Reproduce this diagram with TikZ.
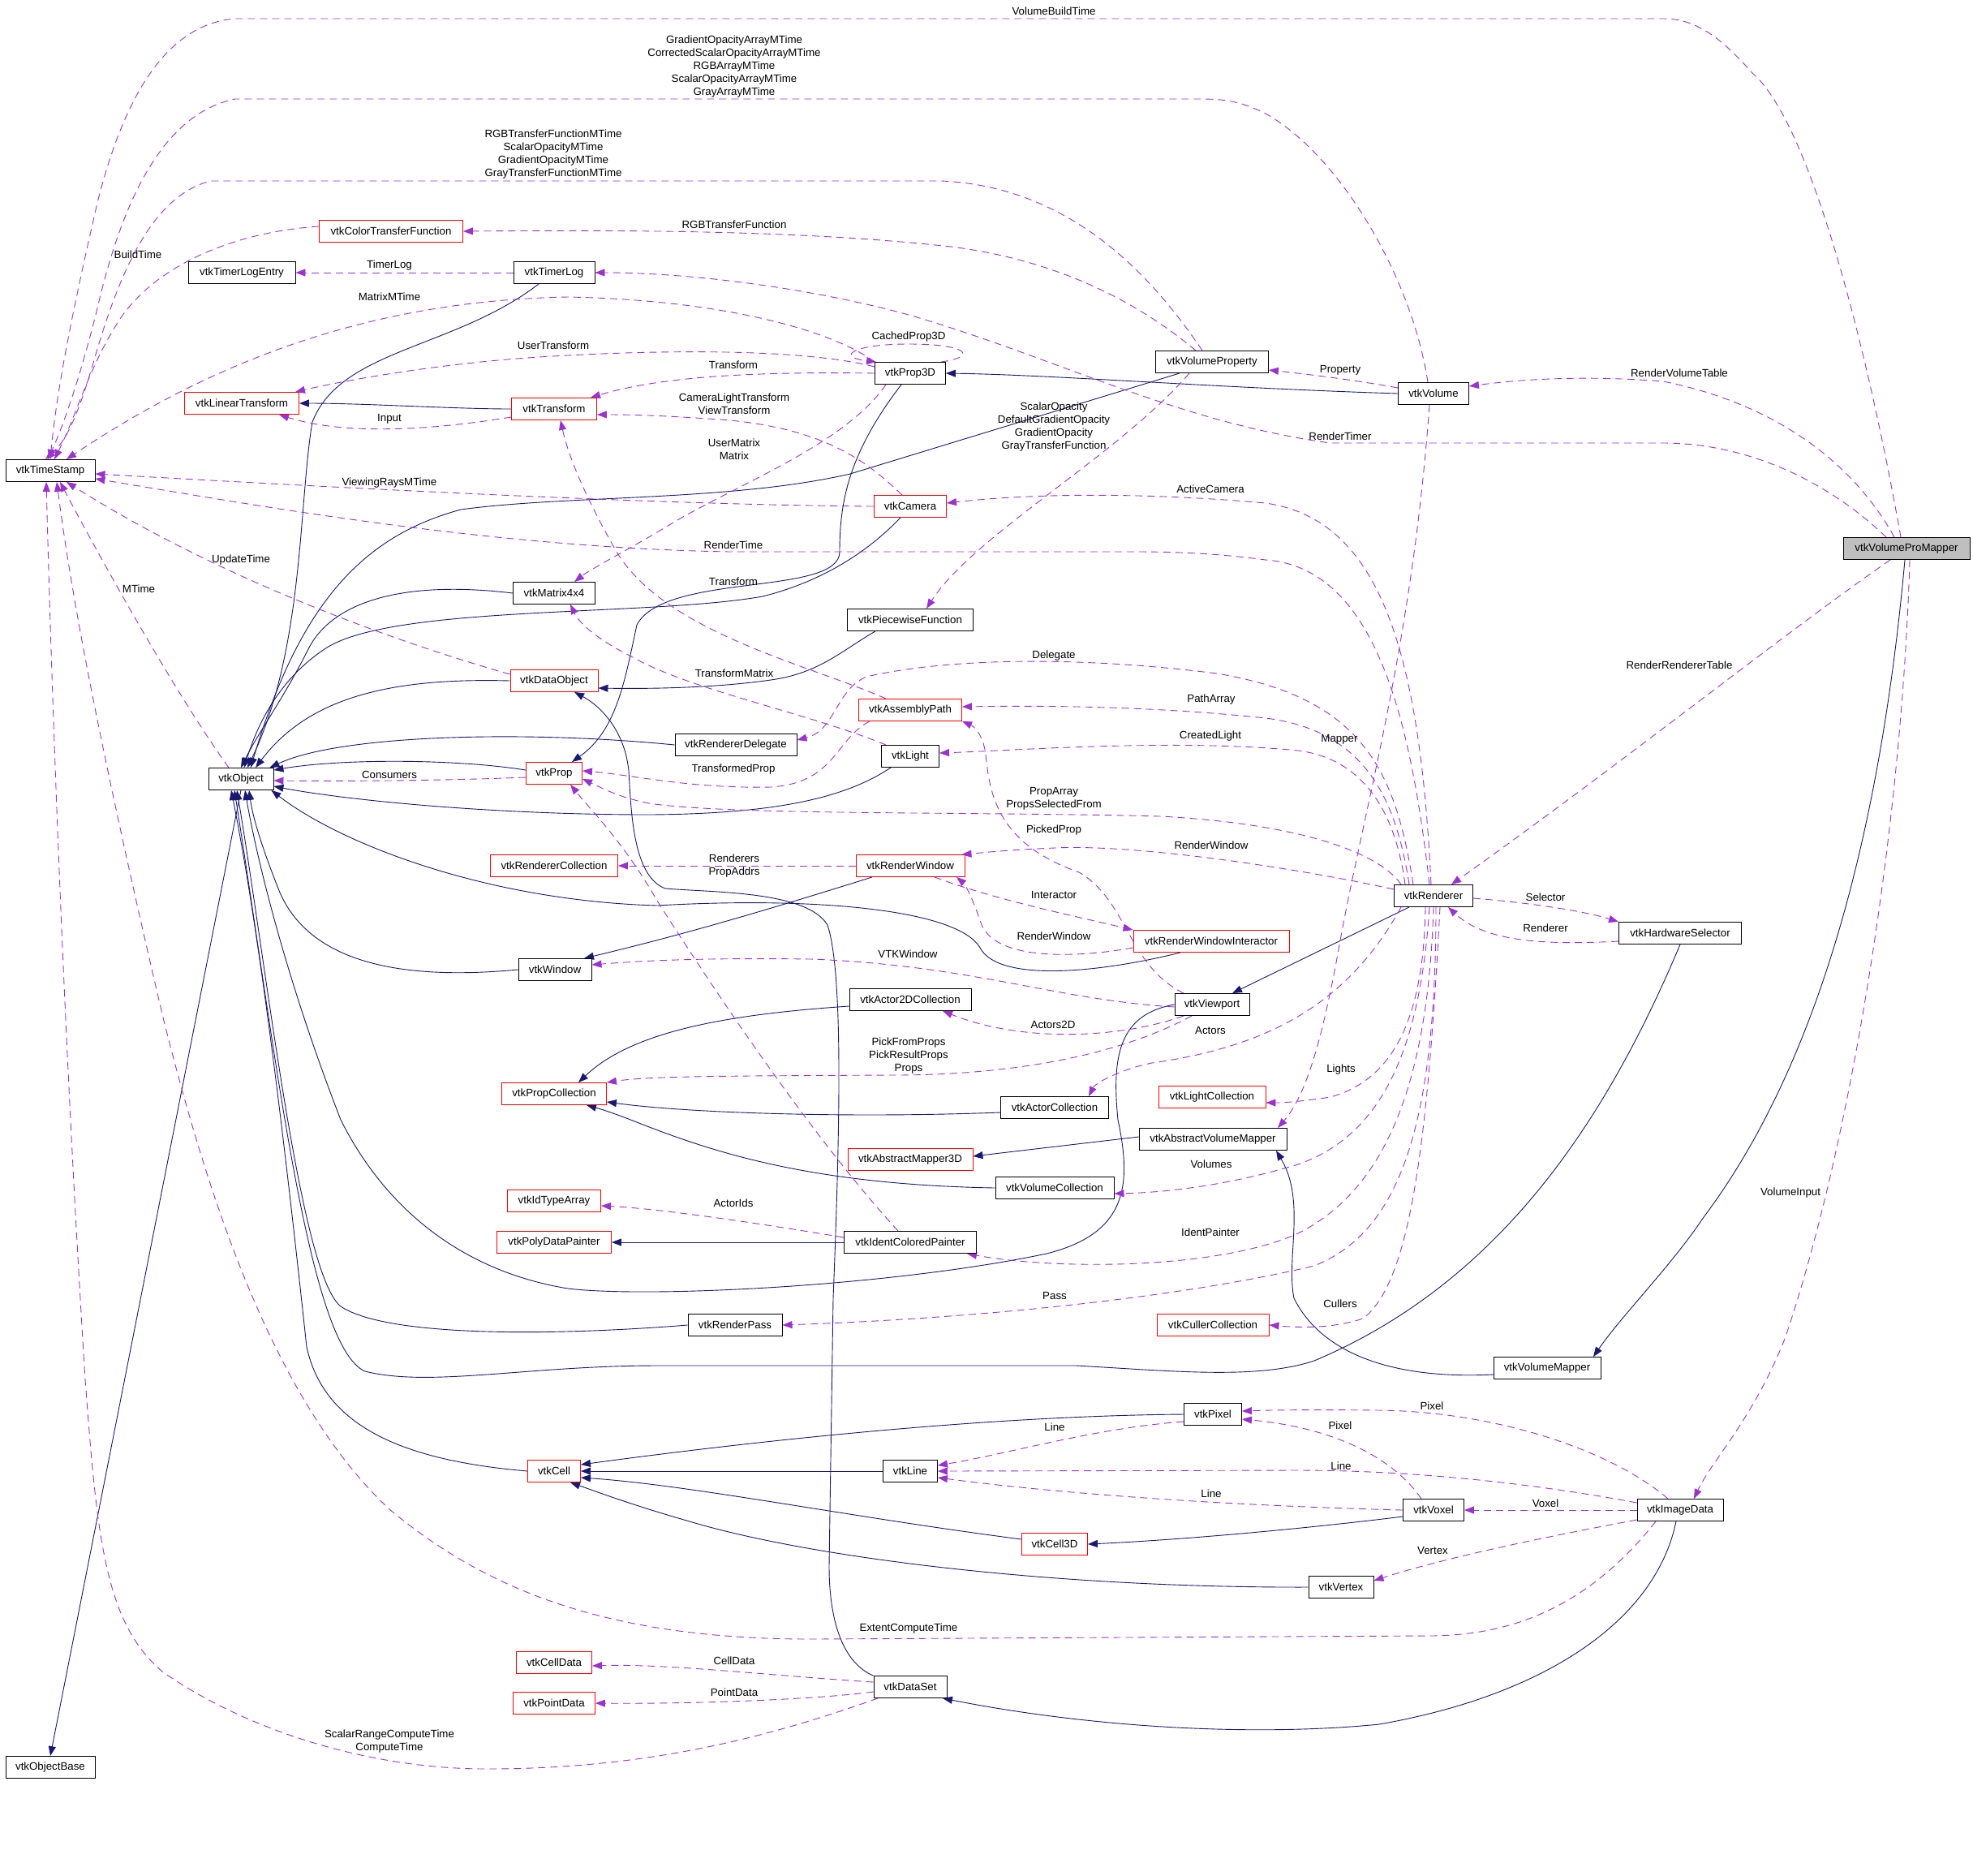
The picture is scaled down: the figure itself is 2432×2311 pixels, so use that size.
\documentclass[tikz,border=0pt]{standalone}
\usepackage{fontspec}
\setmainfont{Liberation Sans}
\usetikzlibrary{arrows.meta}
\definecolor{navyc}{HTML}{191970}
\definecolor{purp}{HTML}{9A32CD}
\definecolor{grayf}{HTML}{BFBFBF}
\newcommand{\dfs}{\fontsize{13.3}{16.2}\selectfont}
\pgfdeclarelayer{bgl}
\pgfdeclarelayer{edges}
\pgfsetlayers{bgl,edges,main}
\tikzset{
  cls/.style={draw=black, fill=white, line width=0.9pt, minimum height=27pt, inner sep=0pt, font=\dfs},
  rcls/.style={cls, draw=red},
  lbl/.style={font=\dfs, align=center, inner sep=0pt},
  inh/.style={draw=navyc, line width=0.9pt, -{Triangle[length=12pt,width=9pt]}},
  use/.style={draw=purp, line width=0.9pt, dash pattern=on 9pt off 6pt, -{Triangle[length=12pt,width=9pt]}},
}
\begin{document}
\begin{tikzpicture}[x=1pt,y=-1pt]
\useasboundingbox (0,0) rectangle (2432,2311);
\begin{pgfonlayer}{bgl}
\fill[white] (0,0) rectangle (2432,2311);
\end{pgfonlayer}
% ---------- nodes ----------
\node[cls, minimum width=110pt] (ts) at (62,580) {vtkTimeStamp};
\node[rcls, minimum width=177pt] (ctf) at (482,285) {vtkColorTransferFunction};
\node[cls, minimum width=132pt] (tle) at (298,336) {vtkTimerLogEntry};
\node[cls, minimum width=100pt] (tl) at (683,336) {vtkTimerLog};
\node[rcls, minimum width=141pt] (lt) at (298,497) {vtkLinearTransform};
\node[rcls, minimum width=105pt] (tr) at (683,504) {vtkTransform};
\node[cls, minimum width=101pt] (m44) at (683,731) {vtkMatrix4x4};
\node[cls, minimum width=87pt] (p3d) at (1122,460) {vtkProp3D};
\node[cls, minimum width=139pt] (vp) at (1494,446) {vtkVolumeProperty};
\node[rcls, minimum width=89pt] (cam) at (1122,624) {vtkCamera};
\node[cls, minimum width=155pt] (pwf) at (1122,764) {vtkPiecewiseFunction};
\node[cls, minimum width=87pt] (vol) at (1767,485) {vtkVolume};
\node[cls, fill=grayf, minimum width=156pt] (vpm) at (2350,676) {vtkVolumeProMapper};
\node[rcls, minimum width=108pt] (dobj) at (683,839) {vtkDataObject};
\node[cls, minimum width=80pt] (obj) at (297,960) {vtkObject};
\node[rcls, minimum width=69pt] (prop) at (683,953) {vtkProp};
\node[rcls, minimum width=157pt] (rcol) at (683,1067) {vtkRendererCollection};
\node[cls, minimum width=90pt] (win) at (684,1195) {vtkWindow};
\node[rcls, minimum width=129pt] (pcol) at (683,1348) {vtkPropCollection};
\node[rcls, minimum width=115pt] (ita) at (683,1480) {vtkIdTypeArray};
\node[rcls, minimum width=141pt] (pdp) at (683,1531) {vtkPolyDataPainter};
\node[rcls, minimum width=127pt] (ap) at (1122,875) {vtkAssemblyPath};
\node[cls, minimum width=150pt] (rd) at (907,918) {vtkRendererDelegate};
\node[cls, minimum width=71pt] (light) at (1122,932) {vtkLight};
\node[rcls, minimum width=134pt] (rw) at (1122,1067) {vtkRenderWindow};
\node[rcls, minimum width=192pt] (rwi) at (1493,1160) {vtkRenderWindowInteractor};
\node[cls, minimum width=150pt] (a2d) at (1122,1232) {vtkActor2DCollection};
\node[cls, minimum width=92pt] (vport) at (1494,1238) {vtkViewport};
\node[rcls, minimum width=132pt] (lcol) at (1494,1352) {vtkLightCollection};
\node[cls, minimum width=133pt] (acol) at (1300,1365) {vtkActorCollection};
\node[cls, minimum width=182pt] (avm) at (1495,1404) {vtkAbstractVolumeMapper};
\node[rcls, minimum width=154pt] (am3d) at (1122,1429) {vtkAbstractMapper3D};
\node[cls, minimum width=146pt] (vcol) at (1300,1464) {vtkVolumeCollection};
\node[cls, minimum width=163pt] (icp) at (1122,1531) {vtkIdentColoredPainter};
\node[cls, minimum width=97pt] (ren) at (1767,1104) {vtkRenderer};
\node[cls, minimum width=151pt] (hws) at (2071,1150) {vtkHardwareSelector};
\node[rcls, minimum width=65pt] (cell) at (683,1813) {vtkCell};
\node[rcls, minimum width=93pt] (cd) at (683,2049) {vtkCellData};
\node[rcls, minimum width=101pt] (pd) at (683,2099) {vtkPointData};
\node[cls, minimum width=110pt] (ob) at (62,2178) {vtkObjectBase};
\node[cls, minimum width=116pt] (rp) at (906,1633) {vtkRenderPass};
\node[rcls, minimum width=138pt] (ccol) at (1495,1633) {vtkCullerCollection};
\node[cls, minimum width=71pt] (pix) at (1495,1743) {vtkPixel};
\node[cls, minimum width=67pt] (line) at (1122,1813) {vtkLine};
\node[rcls, minimum width=81pt] (c3d) at (1300,1903) {vtkCell3D};
\node[cls, minimum width=90pt] (ds) at (1122,2079) {vtkDataSet};
\node[cls, minimum width=132pt] (vm) at (1907,1686) {vtkVolumeMapper};
\node[cls, minimum width=75pt] (vox) at (1767,1861) {vtkVoxel};
\node[cls, minimum width=106pt] (id) at (2071,1861) {vtkImageData};
\node[cls, minimum width=80pt] (vtx) at (1653,1956) {vtkVertex};
% ---------- labels ----------
\node[lbl] (l1) at (1299,14) {VolumeBuildTime};
\node[lbl] (l2) at (905,82) {GradientOpacityArrayMTime\\CorrectedScalarOpacityArrayMTime\\RGBArrayMTime\\ScalarOpacityArrayMTime\\GrayArrayMTime};
\node[lbl] (l3) at (682,190) {RGBTransferFunctionMTime\\ScalarOpacityMTime\\GradientOpacityMTime\\GrayTransferFunctionMTime};
\node[lbl] (l4) at (905,277) {RGBTransferFunction};
\node[lbl] (l5) at (170,314) {BuildTime};
\node[lbl] (l6) at (480,327) {TimerLog};
\node[lbl] (l7) at (480,366) {MatrixMTime};
\node[lbl] (l8) at (1120,415) {CachedProp3D};
\node[lbl] (l9) at (682,426) {UserTransform};
\node[lbl] (l10) at (904,450) {Transform};
\node[lbl] (l11) at (1652,456) {Property};
\node[lbl] (l12) at (2070,460) {RenderVolumeTable};
\node[lbl] (l13) at (905,498) {CameraLightTransform\\ViewTransform};
\node[lbl] (l14) at (1299,526) {ScalarOpacity\\DefaultGradientOpacity\\GradientOpacity\\GrayTransferFunction};
\node[lbl] (l15) at (480,516) {Input};
\node[lbl] (l16) at (1652,538) {RenderTimer};
\node[lbl] (l17) at (905,554) {UserMatrix\\Matrix};
\node[lbl] (l18) at (480,595) {ViewingRaysMTime};
\node[lbl] (l19) at (1492,603) {ActiveCamera};
\node[lbl] (l20) at (904,672) {RenderTime};
\node[lbl] (l21) at (297,690) {UpdateTime};
\node[lbl] (l22) at (904,717) {Transform};
\node[lbl] (l23) at (171,726) {MTime};
\node[lbl] (l24) at (1299,808) {Delegate};
\node[lbl] (l25) at (2070,820) {RenderRendererTable};
\node[lbl] (l26) at (905,830) {TransformMatrix};
\node[lbl] (l27) at (1493,862) {PathArray};
\node[lbl] (l28) at (1492,907) {CreatedLight};
\node[lbl] (l29) at (1651,911) {Mapper};
\node[lbl] (l30) at (904,948) {TransformedProp};
\node[lbl] (l31) at (480,955) {Consumers};
\node[lbl] (l32) at (1299,984) {PropArray\\PropsSelectedFrom};
\node[lbl] (l33) at (1299,1023) {PickedProp};
\node[lbl] (l34) at (1493,1042) {RenderWindow};
\node[lbl] (l35) at (905,1067) {Renderers\\PropAddrs};
\node[lbl] (l36) at (1299,1103) {Interactor};
\node[lbl] (l37) at (1905,1106) {Selector};
\node[lbl] (l38) at (1905,1144) {Renderer};
\node[lbl] (l39) at (1299,1154) {RenderWindow};
\node[lbl] (l40) at (1119,1176) {VTKWindow};
\node[lbl] (l41) at (1298,1263) {Actors2D};
\node[lbl] (l42) at (1492,1270) {Actors};
\node[lbl] (l43) at (1120,1301) {PickFromProps\\PickResultProps\\Props};
\node[lbl] (l44) at (1653,1318) {Lights};
\node[lbl] (l45) at (1493,1435) {Volumes};
\node[lbl] (l46) at (2207,1470) {VolumeInput};
\node[lbl] (l47) at (904,1483) {ActorIds};
\node[lbl] (l48) at (1492,1519) {IdentPainter};
\node[lbl] (l49) at (1300,1597) {Pass};
\node[lbl] (l50) at (1652,1607) {Cullers};
\node[lbl] (l51) at (1765,1733) {Pixel};
\node[lbl] (l52) at (1300,1759) {Line};
\node[lbl] (l53) at (1652,1757) {Pixel};
\node[lbl] (l54) at (1653,1807) {Line};
\node[lbl] (l55) at (1493,1841) {Line};
\node[lbl] (l56) at (1905,1853) {Voxel};
\node[lbl] (l57) at (1766,1911) {Vertex};
\node[lbl] (l58) at (1120,2007) {ExtentComputeTime};
\node[lbl] (l59) at (905,2047) {CellData};
\node[lbl] (l60) at (905,2086) {PointData};
\node[lbl] (l61) at (480,2146) {ScalarRangeComputeTime\\ComputeTime};
\begin{pgfonlayer}{edges}
% ---------- inheritance ----------
\draw[inh] (obj.south) -- (ob.north);
\draw[inh] ([xshift=-19pt]tl.south) .. controls (560,430) and (420,430) .. (385,520) .. controls (368,620) and (375,800) .. ([xshift=8pt]obj.north);
\draw[inh] (tr.west) .. controls (560,504) and (450,497) .. (lt.east);
\draw[inh] ([xshift=-11pt]p3d.south) .. controls (1045,560) and (1035,620) .. (1035,680) .. controls (1035,735) and (820,705) .. (785,770) .. controls (770,840) and (760,900) .. ([xshift=22pt]prop.north);
\draw[inh] ([xshift=-40pt]vp.south) -- (1048,584) .. controls (900,618) and (700,610) .. (568,628) .. controls (450,660) and (370,740) .. ([xshift=12pt]obj.north);
\draw[inh] (vol.west) .. controls (1500,478) and (1300,462) .. (p3d.east);
\draw[inh] ([xshift=-12pt]cam.south) .. controls (1060,690) and (1000,720) .. (940,735) .. controls (800,760) and (480,745) .. (400,800) .. controls (340,840) and (315,900) .. ([xshift=4pt]obj.north);
\draw[inh] (m44.west) .. controls (500,715) and (410,740) .. (380,800) .. controls (350,860) and (320,900) .. (obj.north);
\draw[inh] ([xshift=-43pt]pwf.south) .. controls (1040,800) and (1010,830) .. (950,838) .. controls (880,848) and (800,849) .. ([yshift=-9pt]dobj.east);
\draw[inh] (dobj.west) .. controls (480,835) and (380,860) .. ([xshift=18pt]obj.north);
\draw[inh] (rd.west) .. controls (650,900) and (420,905) .. ([xshift=-5pt]obj.north east);
\draw[inh] ([xshift=-24pt]light.south) .. controls (1040,985) and (950,1003) .. (800,1004) .. controls (600,1004) and (420,985) .. ([yshift=-9pt]obj.east);
\draw[inh] ([yshift=4pt]prop.west) .. controls (560,935) and (420,935) .. ([yshift=11pt]obj.east);
\draw[inh] ([xshift=-47pt]rw.south) .. controls (950,1120) and (850,1150) .. ([xshift=36pt]win.north);
\draw[inh] ([xshift=-38pt]rwi.south) .. controls (1350,1200) and (1230,1210) .. (1208,1168) .. controls (1180,1120) and (1000,1105) .. (810,1116) .. controls (600,1110) and (420,1040) .. ([xshift=-3pt]obj.south east);
\draw[inh] (win.west) .. controls (480,1210) and (380,1180) .. (345,1100) .. controls (325,1050) and (312,1010) .. ([xshift=10pt]obj.south);
\draw[inh] ([xshift=-30pt]ren.south) -- ([xshift=25pt]vport.north);
\draw[inh] (vport.west) .. controls (1380,1250) and (1370,1300) .. (1378,1380) .. controls (1395,1460) and (1390,1520) .. (1290,1545) .. controls (1100,1585) and (800,1600) .. (700,1588) .. controls (560,1565) and (470,1480) .. (420,1380) .. controls (350,1200) and (315,1050) .. ([xshift=5pt]obj.south);
\draw[inh] ([yshift=-8pt]a2d.west) .. controls (900,1250) and (780,1270) .. ([xshift=30pt]pcol.north);
\draw[inh] ([yshift=-6pt]acol.west) .. controls (1050,1378) and (850,1372) .. ([yshift=-10pt]pcol.east);
\draw[inh] (vcol.west) .. controls (1000,1460) and (880,1420) .. (790,1385) .. controls (765,1375) and (745,1368) .. ([xshift=40pt]pcol.south);
\draw[inh] ([yshift=3pt]avm.west) -- ([yshift=4pt]am3d.east);
\draw[inh] ([yshift=-8pt]vm.west) .. controls (1720,1700) and (1630,1670) .. (1595,1600) .. controls (1585,1550) and (1610,1480) .. ([xshift=78pt]avm.south);
\draw[inh] ([xshift=-2pt]vpm.south) .. controls (2320,1000) and (2250,1300) .. (2100,1500) .. controls (2060,1560) and (2000,1620) .. ([xshift=57pt]vm.north);
\draw[inh] (icp.west) -- (pdp.east);
\draw[inh] (rp.west) .. controls (700,1645) and (480,1650) .. (420,1610) .. controls (370,1570) and (330,1200) .. ([xshift=-5pt]obj.south);
\draw[inh] (hws.south) .. controls (1980,1380) and (1850,1580) .. (1620,1677) .. controls (1550,1700) and (1450,1690) .. (1327,1683) -- (810,1683) .. controls (650,1683) and (530,1710) .. (450,1690) .. controls (380,1660) and (340,1300) .. ([xshift=-8pt]obj.south);
\draw[inh] (pix.west) .. controls (1200,1745) and (900,1780) .. ([yshift=8pt]cell.east);
\draw[inh] (line.west) -- (cell.east);
\draw[inh] ([yshift=6pt]c3d.west) .. controls (1050,1870) and (850,1830) .. ([yshift=-8pt]cell.east);
\draw[inh] ([yshift=-8pt]vox.west) .. controls (1600,1885) and (1450,1898) .. (c3d.east);
\draw[inh] (vtx.west) .. controls (1300,1957) and (1000,1920) .. (850,1875) .. controls (780,1855) and (740,1840) .. ([xshift=20pt]cell.south);
\draw[inh] (cell.west) .. controls (500,1800) and (400,1760) .. (378,1660) .. controls (350,1400) and (320,1150) .. ([xshift=-12pt]obj.south);
\draw[inh] ([xshift=-5pt]id.south) .. controls (2040,2000) and (1900,2090) .. (1700,2125) .. controls (1550,2140) and (1350,2130) .. ([xshift=40pt]ds.south);
\draw[inh] (ds.north west) .. controls (1040,2050) and (1022,2000) .. (1022,1930) -- (1027,1600) .. controls (1035,1400) and (1040,1200) .. (1020,1140) .. controls (995,1098) and (880,1100) .. (820,1095) .. controls (780,1080) and (778,1000) .. (775,950) .. controls (770,900) and (740,870) .. ([xshift=25pt]dobj.south);
% ---------- usage ----------
\draw[use] ([xshift=-7pt]vpm.north) .. controls (2300,420) and (2230,150) .. (2160,90) .. controls (2120,45) and (2090,23) .. (2050,23) -- (290,23) .. controls (200,30) and (150,130) .. (120,250) .. controls (90,380) and (70,480) .. (ts.north);
\draw[use] ([xshift=-7pt]vol.north) .. controls (1740,340) and (1650,190) .. (1560,140) .. controls (1530,125) and (1510,122) .. (1480,122) -- (290,122) .. controls (200,140) and (150,250) .. (120,380) .. controls (100,460) and (80,520) .. ([xshift=-3pt]ts.north);
\draw[use] ([xshift=-12pt]vp.north) .. controls (1420,340) and (1320,230) .. (1160,223) -- (260,223) .. controls (190,240) and (150,330) .. (120,430) .. controls (100,500) and (85,540) .. ([xshift=-6pt]ts.north);
\draw[use] ([yshift=6pt]ctf.west) .. controls (300,285) and (200,320) .. (150,390) .. controls (110,450) and (95,510) .. ([xshift=5pt]ts.north);
\draw[use] ([xshift=-20pt]vp.north) .. controls (1400,370) and (1300,320) .. (1172,304) .. controls (1000,285) and (800,283) .. (ctf.east);
\draw[use] ([xshift=-28pt]vp.south) .. controls (1380,560) and (1200,660) .. ([xshift=20pt]pwf.north);
\draw[use] ([yshift=7pt]vol.west) .. controls (1680,470) and (1620,462) .. ([yshift=-10pt]vp.east);
\draw[use] ([xshift=-15pt]vpm.north) .. controls (2290,580) and (2200,500) .. (2050,470) .. controls (1950,462) and (1870,468) .. ([yshift=9pt]vol.east);
\draw[use] ([xshift=-25pt]vpm.north) .. controls (2250,590) and (2150,546) .. (2050,546) -- (1640,546) .. controls (1450,520) and (1300,440) .. (1120,388) .. controls (1000,355) and (850,336) .. (tl.east);
\draw[use] ([xshift=-20pt]vpm.south) .. controls (2200,780) and (2000,940) .. ([xshift=22pt]ren.north);
\draw[use] ([xshift=4pt]vpm.south) .. controls (2345,1000) and (2285,1400) .. (2200,1650) .. controls (2160,1750) and (2110,1800) .. ([xshift=17pt]id.north);
\draw[use] ([xshift=-6pt]p3d.north east) .. controls (1205,440) and (1195,424) .. (1120,424) .. controls (1050,424) and (1030,440) .. ([xshift=2pt]p3d.north west);
\draw[use] (p3d.north west) .. controls (1030,410) and (900,370) .. (700,366) .. controls (500,370) and (300,420) .. ([xshift=20pt]ts.north);
\draw[use] ([yshift=8pt]p3d.west) .. controls (1000,432) and (850,430) .. (700,438) .. controls (550,445) and (420,470) .. ([xshift=-5pt]lt.north east);
\draw[use] (p3d.west) .. controls (950,458) and (820,462) .. ([xshift=-8pt]tr.north east);
\draw[use] ([xshift=-30pt]p3d.south) .. controls (1040,550) and (900,600) .. (820,650) .. controls (770,680) and (730,700) .. ([xshift=25pt]m44.north);
\draw[use] ([xshift=-10pt]cam.north) .. controls (1070,570) and (1020,530) .. (900,518) .. controls (820,512) and (780,511) .. ([yshift=-7pt]tr.east);
\draw[use] (cam.west) .. controls (800,622) and (400,600) .. ([yshift=-4pt]ts.east);
\draw[use] ([xshift=-5pt]ren.north) .. controls (1740,900) and (1700,700) .. (1560,690) .. controls (1500,682) and (1450,680) .. (1400,680) -- (900,680) .. controls (600,675) and (300,620) .. ([yshift=-10pt]ts.east);
\draw[use] ([xshift=-3pt]ren.north) .. controls (1750,800) and (1700,640) .. (1560,620) .. controls (1450,610) and (1300,605) .. ([yshift=4pt]cam.east);
\draw[use] ([xshift=-25pt]ren.north) .. controls (1720,950) and (1680,860) .. (1500,830) .. controls (1300,805) and (1150,815) .. (1068,834) .. controls (1030,850) and (1030,900) .. ([yshift=6pt]rd.east);
\draw[use] ([xshift=-30pt]ren.north) .. controls (1720,980) and (1680,900) .. (1560,885) .. controls (1400,868) and (1250,870) .. ([yshift=4pt]ap.east);
\draw[use] ([xshift=-35pt]ren.north) .. controls (1720,1000) and (1680,935) .. (1600,925) .. controls (1450,910) and (1250,925) .. ([yshift=4pt]light.east);
\draw[use] ([xshift=-40pt]ren.north) .. controls (1700,1050) and (1600,1015) .. (1430,1006) .. controls (1200,1000) and (900,1005) .. (800,990) .. controls (760,982) and (740,970) .. ([yshift=-7pt]prop.east);
\draw[use] ([xshift=-50pt]ap.south) .. controls (1030,910) and (1030,965) .. (950,970) .. controls (850,972) and (780,955) .. ([yshift=3pt]prop.east);
\draw[use] ([xshift=-30pt]ap.north) .. controls (1000,820) and (820,780) .. (760,680) .. controls (720,610) and (700,560) .. ([xshift=8pt]tr.south);
\draw[use] ([xshift=-30pt]light.north) .. controls (1000,880) and (850,850) .. (780,810) .. controls (740,790) and (715,770) .. ([xshift=20pt]m44.south);
\draw[use] ([yshift=8pt]ren.west) .. controls (1600,1070) and (1400,1040) .. (1300,1045) .. controls (1230,1048) and (1200,1052) .. ([xshift=-4pt]rw.north east);
\draw[use] (rw.west) -- (rcol.east);
\draw[use] ([xshift=30pt]rw.south) .. controls (1230,1110) and (1330,1130) .. (rwi.north west);
\draw[use] ([yshift=-8pt]rwi.west) .. controls (1330,1180) and (1230,1185) .. (1210,1140) .. controls (1200,1110) and (1190,1090) .. ([xshift=57pt]rw.south);
\draw[use] ([xshift=-35pt]vport.north) .. controls (1390,1190) and (1390,1110) .. (1330,1075) .. controls (1230,1040) and (1220,980) .. (1215,930) .. controls (1212,905) and (1200,895) .. (ap.south east);
\draw[use] ([yshift=-3pt]vport.west) .. controls (1300,1232) and (1200,1190) .. (1000,1182) .. controls (850,1180) and (780,1185) .. ([yshift=6pt]win.east);
\draw[use] ([xshift=-35pt]vport.south) .. controls (1380,1280) and (1260,1285) .. ([xshift=40pt]a2d.south);
\draw[use] ([xshift=-25pt]vport.south) .. controls (1380,1300) and (1250,1325) .. (1100,1325) .. controls (900,1326) and (800,1326) .. (pcol.north east);
\draw[use] ([xshift=-40pt]ren.south) .. controls (1660,1240) and (1560,1290) .. (1420,1310) .. controls (1380,1318) and (1350,1335) .. ([xshift=42pt]acol.north);
\draw[use] ([xshift=-10pt]ren.south) .. controls (1755,1250) and (1720,1330) .. (1640,1352) .. controls (1600,1358) and (1580,1359) .. ([yshift=-7pt]lcol.east);
\draw[use] ([xshift=-5pt]vol.south) .. controls (1740,800) and (1680,1000) .. (1650,1170) .. controls (1630,1280) and (1610,1350) .. ([xshift=80pt]avm.north);
\draw[use] ([xshift=-5pt]ren.south) .. controls (1750,1300) and (1700,1400) .. (1600,1435) .. controls (1500,1465) and (1420,1470) .. ([yshift=-7pt]vcol.east);
\draw[use] (ren.south) .. controls (1760,1350) and (1700,1470) .. (1600,1520) .. controls (1500,1565) and (1300,1565) .. ([xshift=-12pt]icp.south east);
\draw[use] ([xshift=3pt]ren.south) .. controls (1770,1400) and (1720,1520) .. (1620,1560) .. controls (1450,1600) and (1200,1625) .. (rp.east);
\draw[use] ([xshift=8pt]ren.south) .. controls (1760,1400) and (1740,1580) .. (1680,1625) .. controls (1640,1638) and (1600,1636) .. (ccol.east);
\draw[use] ([yshift=-3pt]ren.east) .. controls (1880,1112) and (1950,1122) .. (hws.north west);
\draw[use] ([yshift=-10pt]hws.west) .. controls (1900,1165) and (1830,1160) .. ([xshift=18pt]ren.south);
\draw[use] ([yshift=6pt]icp.west) .. controls (950,1510) and (820,1490) .. ([yshift=-6pt]ita.east);
\draw[use] ([xshift=-15pt]icp.north) .. controls (1000,1400) and (880,1220) .. (810,1110) .. controls (770,1040) and (730,1000) .. ([xshift=20pt]prop.south);
\draw[use] ([yshift=-5pt]prop.west) .. controls (550,962) and (420,963) .. ([yshift=-2pt]obj.east);
\draw[use] (tl.west) -- (tle.east);
\draw[use] ([yshift=-10pt]tr.west) .. controls (520,532) and (420,535) .. ([xshift=-25pt]lt.south east);
\draw[use] ([yshift=8pt]dobj.west) .. controls (450,780) and (250,700) .. ([xshift=20pt]ts.south);
\draw[use] ([xshift=-15pt]obj.north) .. controls (220,860) and (130,700) .. ([xshift=12pt]ts.south);
\draw[use] ([xshift=-30pt]id.south) .. controls (1950,1990) and (1850,2016) .. (1760,2016) -- (1000,2020) .. controls (750,2020) and (600,1960) .. (480,1860) .. controls (330,1720) and (250,1450) .. (200,1250) .. controls (130,950) and (90,750) .. ([xshift=8pt]ts.south);
\draw[use] ([xshift=-40pt]ds.south) .. controls (950,2140) and (800,2180) .. (600,2180) .. controls (450,2180) and (300,2130) .. (200,2060) .. controls (130,2000) and (120,1900) .. (105,1700) .. controls (80,1300) and (65,900) .. ([xshift=-5pt]ts.south);
\draw[use] ([yshift=6pt]ds.west) .. controls (950,2065) and (820,2050) .. ([yshift=-4pt]cd.east);
\draw[use] ([yshift=-6pt]ds.west) .. controls (1000,2095) and (850,2100) .. (pd.east);
\draw[use] ([xshift=-15pt]id.north) .. controls (1990,1790) and (1850,1740) .. (1700,1738) .. controls (1600,1737) and (1560,1738) .. ([yshift=4pt]pix.east);
\draw[use] ([xshift=-15pt]vox.north) .. controls (1720,1800) and (1650,1760) .. ([yshift=-6pt]pix.east);
\draw[use] ([yshift=-9pt]pix.west) .. controls (1350,1760) and (1250,1790) .. ([yshift=7pt]line.east);
\draw[use] ([yshift=9pt]id.west) .. controls (1900,1830) and (1750,1812) .. (1600,1812) -- (line.east);
\draw[use] (vox.west) .. controls (1500,1855) and (1300,1840) .. ([yshift=-8pt]line.east);
\draw[use] (id.west) -- (vox.east);
\draw[use] ([yshift=-12pt]id.west) .. controls (1900,1895) and (1780,1920) .. ([yshift=8pt]vtx.east);
\end{pgfonlayer}
\end{tikzpicture}
\end{document}
